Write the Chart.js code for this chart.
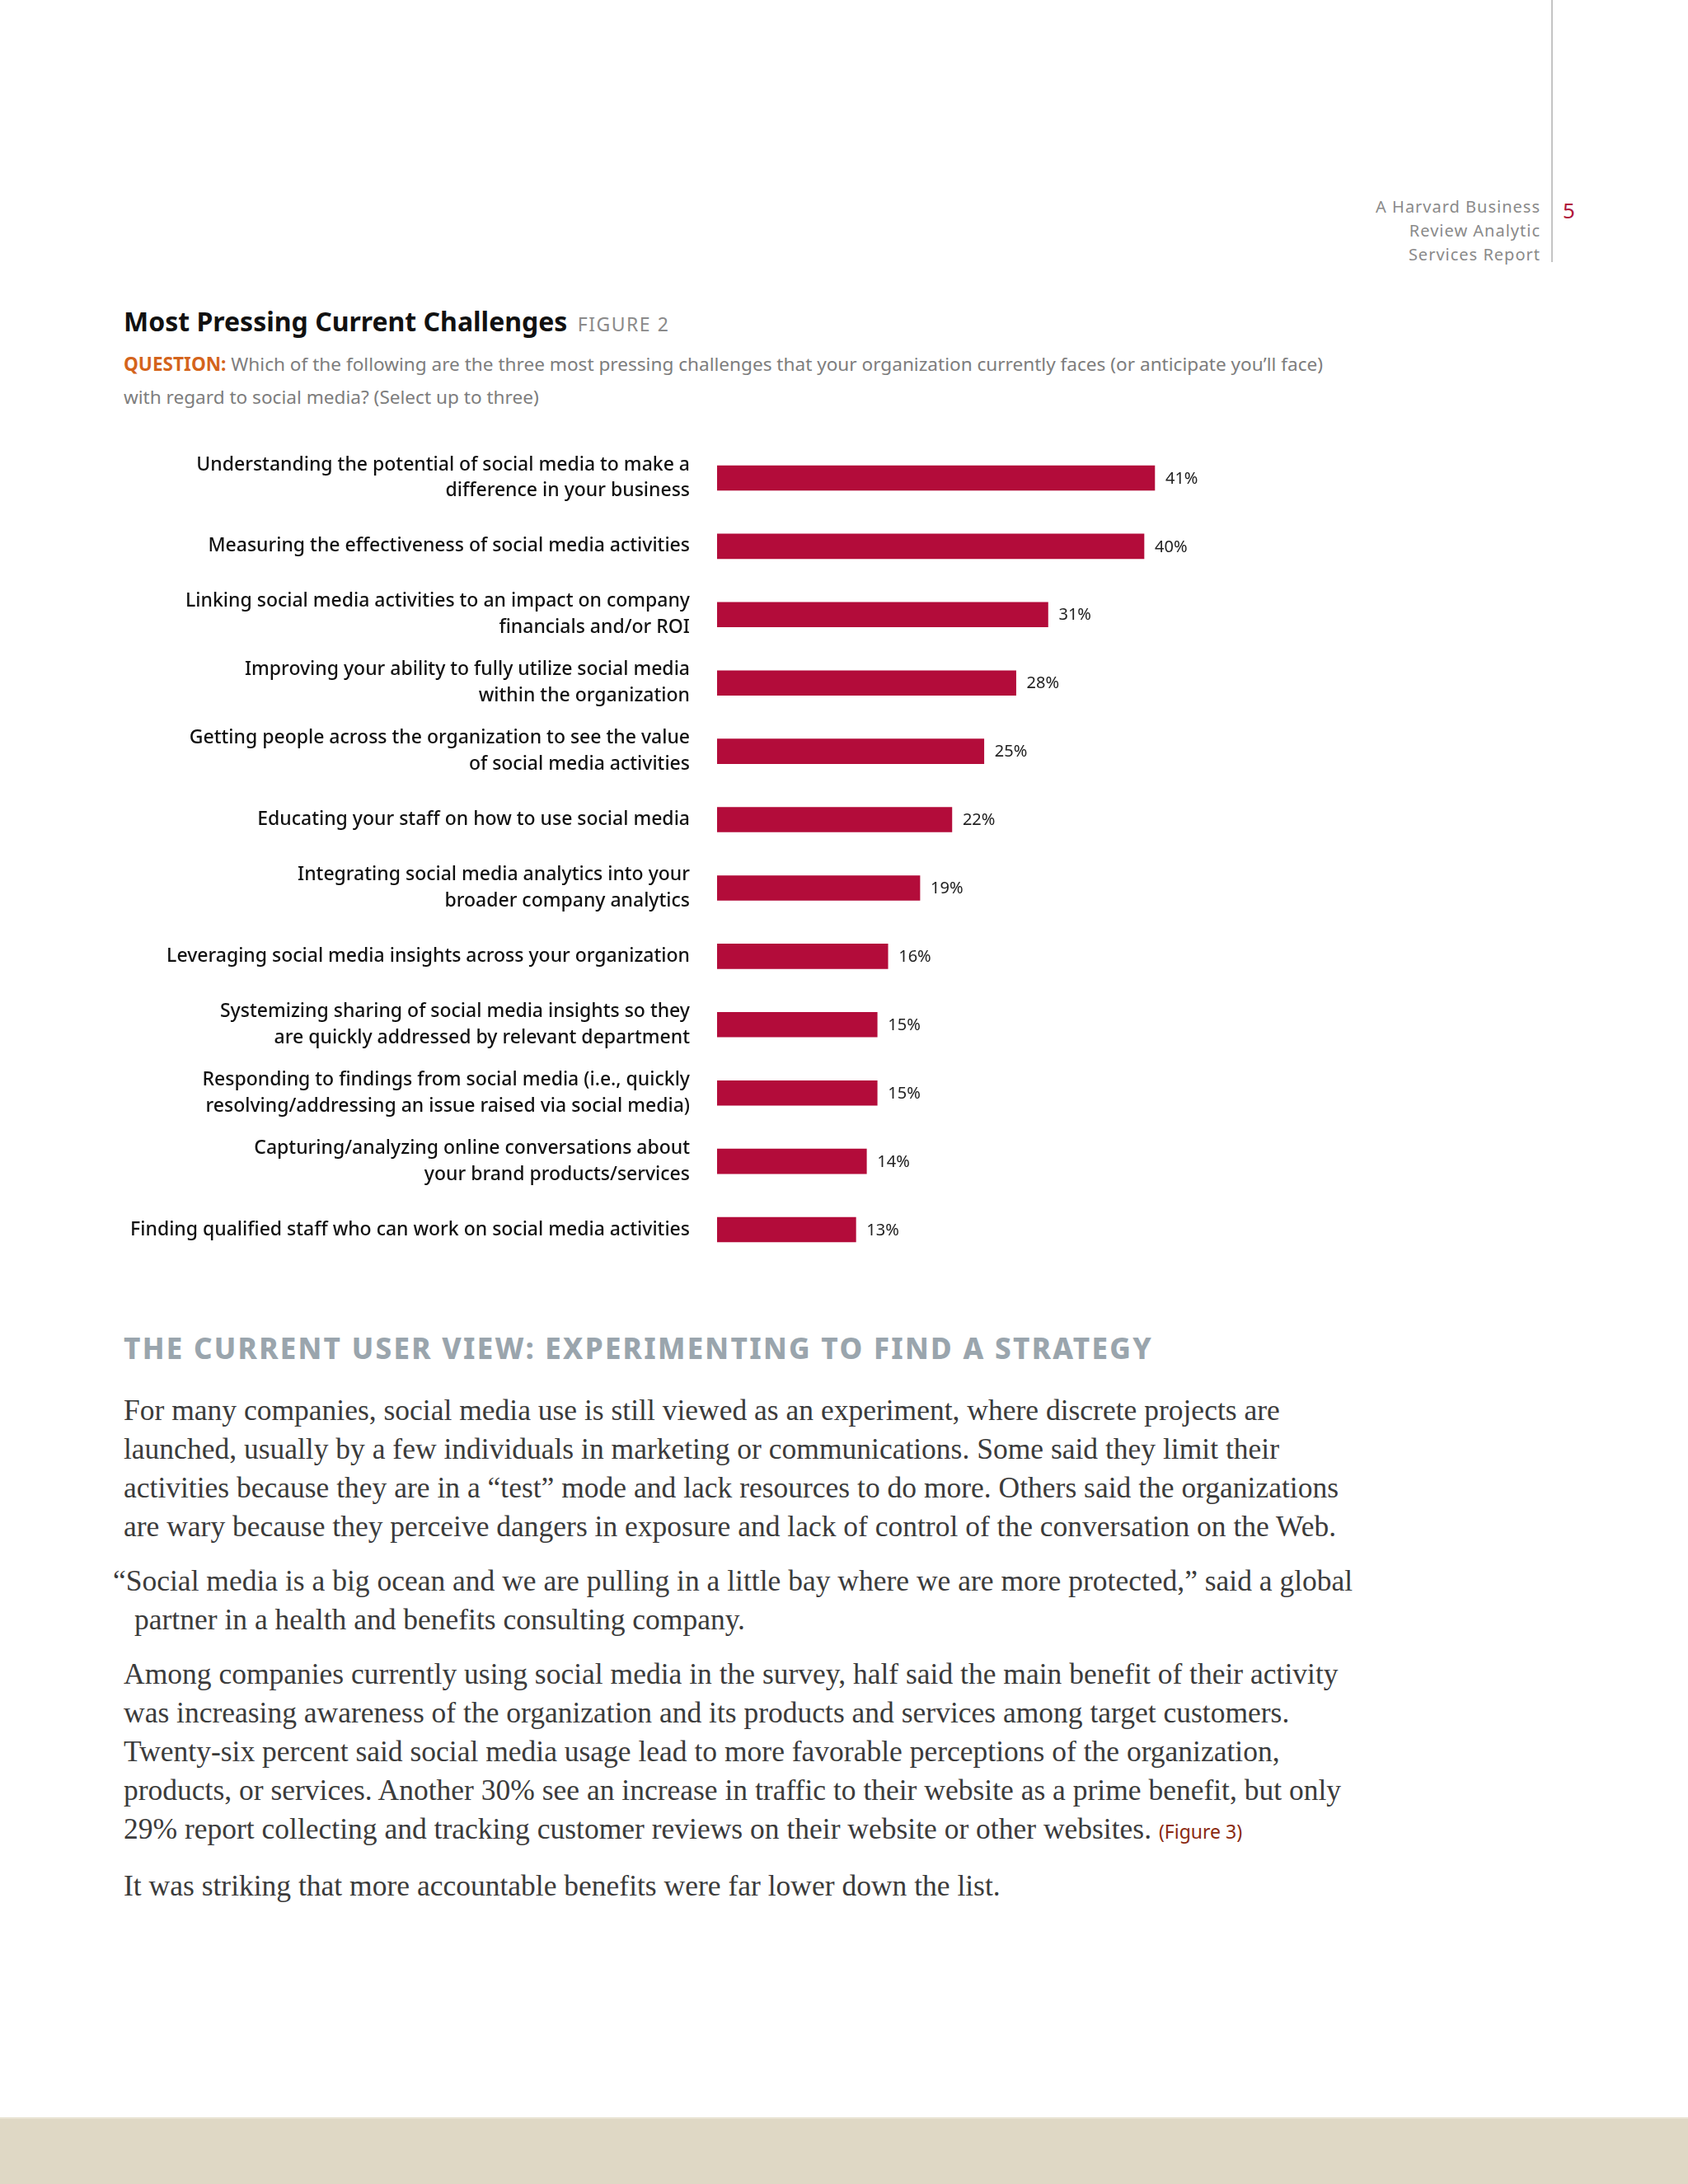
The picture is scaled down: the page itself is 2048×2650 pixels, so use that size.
<!DOCTYPE html>
<html lang="en">
  <head>
    <meta charset="UTF-8" />
    <title>Most Pressing Current Challenges</title>
    <script src="https://cdn.jsdelivr.net/npm/chart.js"></script>
    <style>
      * {
        margin: 0;
        padding: 0;
        box-sizing: border-box;
      }

      body {
        width: 2048px;
        height: 2650px;
        background: #ffffff;
        position: relative;
        overflow: hidden;
        font-family: "Noto Sans", sans-serif;
      }

      .abs {
        position: absolute;
        white-space: nowrap;
      }

      .brand {
        right: 179px;
        top: 236px;
        text-align: right;
        font-size: 20px;
        line-height: 29px;
        letter-spacing: 1px;
        color: #8a8a8a;
      }

      .rule {
        left: 1882px;
        top: 0;
        width: 2px;
        height: 318px;
        background: #c4c4c4;
      }

      .page-no {
        left: 1896px;
        top: 238px;
        font-size: 26px;
        line-height: 34px;
        color: #b0163c;
      }

      .title {
        left: 150px;
        top: 370px;
        font-size: 32px;
        line-height: 40px;
        font-weight: 700;
        color: #111;
      }

      .title span {
        font-size: 23px;
        font-weight: 400;
        letter-spacing: 1.5px;
        color: #8a8a8a;
        margin-left: 4px;
      }

      .question {
        left: 150px;
        top: 422px;
        font-size: 22.6px;
        line-height: 40px;
        color: #7d7d7d;
      }

      .question b {
        color: #d4641c;
      }

      .chart-box {
        left: 0;
        top: 530px;
        width: 1600px;
        height: 1010px;
      }

      .section {
        left: 150px;
        top: 1616px;
        font-size: 35px;
        line-height: 40px;
        font-weight: 800;
        letter-spacing: 2.3px;
        color: #9aa5ad;
      }

      .body {
        left: 150px;
        top: 1688px;
        font-family: "Liberation Serif", serif;
        font-size: 35.5px;
        line-height: 47px;
        color: #3b3b3b;
      }

      .body p {
        margin-bottom: 19px;
      }

      .body .hang {
        text-indent: -13px;
      }

      .fig {
        font-family: "Noto Sans", sans-serif;
        font-size: 23px;
        color: #8b2a10;
      }

      .footer {
        left: 0;
        top: 2569px;
        width: 2048px;
        height: 81px;
        background: #dfd8c5;
        border-top: 2px solid #e9e4d4;
      }
    </style>
  </head>
  <body>
    <div class="abs rule"></div>
    <div class="abs brand">A Harvard Business<br />Review Analytic<br />Services Report</div>
    <div class="abs page-no">5</div>

    <div class="abs title">Most Pressing Current Challenges <span>FIGURE 2</span></div>
    <div class="abs question">
      <b>QUESTION:</b> Which of the following are the three most pressing challenges that your organization currently faces (or anticipate you’ll face)<br />with regard to social media? (Select up to three)
    </div>

    <div class="abs chart-box"><canvas id="challengesChart"></canvas></div>

    <div class="abs section">THE CURRENT USER VIEW: EXPERIMENTING TO FIND A STRATEGY</div>
    <div class="abs body">
      <p>For many companies, social media use is still viewed as an experiment, where discrete projects are<br />launched, usually by a few individuals in marketing or communications. Some said they limit their<br />activities because they are in a “test” mode and lack resources to do more. Others said the organizations<br />are wary because they perceive dangers in exposure and lack of control of the conversation on the Web.</p>
      <p class="hang">“Social media is a big ocean and we are pulling in a little bay where we are more protected,” said a global<br /><span style="margin-left:13px">partner in a health and benefits consulting company.</span></p>
      <p>Among companies currently using social media in the survey, half said the main benefit of their activity<br />was increasing awareness of the organization and its products and services among target customers.<br />Twenty-six percent said social media usage lead to more favorable perceptions of the organization,<br />products, or services. Another 30% see an increase in traffic to their website as a prime benefit, but only<br />29% report collecting and tracking customer reviews on their website or other websites. <span class="fig">(Figure 3)</span></p>
      <p>It was striking that more accountable benefits were far lower down the list.</p>
    </div>

    <div class="abs footer"></div>

    <script>
      // challenge labels (multi-line as printed)
      const challenges = [
        ["Understanding the potential of social media to make a", "difference in your business"],
        "Measuring the effectiveness of social media activities",
        ["Linking social media activities to an impact on company", "financials and/or ROI"],
        ["Improving your ability to fully utilize social media", "within the organization"],
        ["Getting people across the organization to see the value", "of social media activities"],
        "Educating your staff on how to use social media",
        ["Integrating social media analytics into your", "broader company analytics"],
        "Leveraging social media insights across your organization",
        ["Systemizing sharing of social media insights so they", "are quickly addressed by relevant department"],
        ["Responding to findings from social media (i.e., quickly", "resolving/addressing an issue raised via social media)"],
        ["Capturing/analyzing online conversations about", "your brand products/services"],
        "Finding qualified staff who can work on social media activities",
      ];
      const percentages = [41, 40, 31, 28, 25, 22, 19, 16, 15, 15, 14, 13];

      const barLabels = {
        id: "barLabels",
        afterDatasetsDraw(chart) {
          const ctx = chart.ctx;
          const meta = chart.getDatasetMeta(0);
          ctx.save();
          ctx.font = "400 20px 'Noto Sans', sans-serif";
          ctx.fillStyle = "#222";
          ctx.textAlign = "left";
          ctx.textBaseline = "middle";
          meta.data.forEach((bar, i) => {
            ctx.fillText(percentages[i] + "%", bar.x + 13, bar.y + 1);
          });
          ctx.restore();
        },
      };

      const ctx = document.getElementById("challengesChart").getContext("2d");
      new Chart(ctx, {
        type: "bar",
        data: {
          labels: challenges,
          datasets: [
            {
              data: percentages,
              backgroundColor: "#b30c3a",
              barThickness: 30,
            },
          ],
        },
        options: {
          indexAxis: "y",
          responsive: true,
          maintainAspectRatio: false,
          animation: false,
          devicePixelRatio: 1,
          layout: { padding: { top: 8.5, bottom: 6.5, left: 0, right: 82.5 } },
          plugins: {
            legend: { display: false },
            tooltip: { enabled: false },
          },
          scales: {
            x: { display: false, min: 0, max: 50 },
            y: {
              grid: { display: false, drawTicks: false },
              border: { display: false },
              ticks: {
                padding: 33,
                color: "#111",
                font: { family: "'Noto Sans', sans-serif", size: 23, weight: 500, lineHeight: 1.39 },
              },
              afterFit(scale) {
                // fixed label column, no extra room for the multi-line end labels
                scale.width = 870;
                scale.paddingTop = 0;
                scale.paddingBottom = 0;
              },
            },
          },
        },
        plugins: [barLabels],
      });
    </script>
  </body>
</html>
